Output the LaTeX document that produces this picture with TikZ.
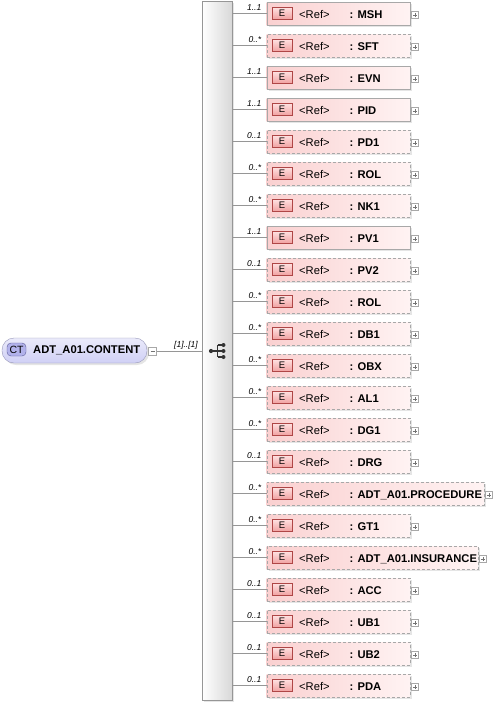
\documentclass[tikz,border=0pt]{standalone}
\usepackage{fontspec}
\setmainfont{Liberation Sans}
\usetikzlibrary{shadows}
\definecolor{boxpink}{RGB}{250,208,208}
\definecolor{boxlight}{RGB}{255,243,243}
\definecolor{boxline}{RGB}{168,168,168}
\definecolor{epink}{RGB}{240,160,160}
\definecolor{eline}{RGB}{175,70,70}
\definecolor{ctfill}{RGB}{208,208,245}
\definecolor{ctline}{RGB}{150,150,185}
\definecolor{ctbadge}{RGB}{178,178,235}
\definecolor{ctbadgeline}{RGB}{90,90,150}
\definecolor{barfill}{RGB}{216,216,216}
\definecolor{wiregray}{RGB}{150,150,150}
\newcommand{\txtsize}{\fontsize{11.2}{13}\selectfont}

\begin{document}
\begin{tikzpicture}[x=1pt,y=-1pt,
		softshadow/.style={drop shadow={shadow xshift=2pt, shadow yshift=-2pt, fill=black!10, opacity=1}},
		refbox/.style={draw=boxline, left color=boxpink, right color=boxlight, minimum height=23pt, inner sep=0pt, anchor=west, softshadow},
		optional/.code={\ifnum#1=1\relax\pgfkeysalso{dash pattern=on 3pt off 2pt}\fi},
		ebadge/.style={draw=eline, top color=red!12, bottom color=epink, minimum width=20pt, minimum height=12pt, inner sep=0pt, font=\fontsize{9.5}{10}\selectfont},
		reftext/.style={anchor=base west, inner sep=0pt, font=\txtsize},
		nametext/.style={anchor=base west, inner sep=0pt, font=\txtsize\bfseries},
		card/.style={anchor=base east, inner sep=0pt, font=\fontsize{8.5}{9}\selectfont\itshape},
		plusbox/.style={draw=boxline, fill=white, minimum size=7pt, inner sep=0pt, path picture={\draw[black!55] ([xshift=-2pt]path picture bounding box.center) -- ([xshift=2pt]path picture bounding box.center) ([yshift=-2pt]path picture bounding box.center) -- ([yshift=2pt]path picture bounding box.center);}},
		minusbox/.style={draw=boxline, fill=white, minimum size=8pt, inner sep=0pt, path picture={\draw[black!55] ([xshift=-2pt]path picture bounding box.center) -- ([xshift=2pt]path picture bounding box.center);}},
		wireline/.style={draw=wiregray, line width=0.8pt},
	]
	\useasboundingbox (0,0) rectangle (498,705);
	\node[draw=wiregray, left color=white, right color=barfill, minimum width=30pt, minimum height=699pt, inner sep=0pt, softshadow] (seq) at (217,350.5) {};
	\draw[black!80, line width=1.2pt] (211,351) -- (223.5,351) (217.5,345) -- (217.5,357) (217.5,345) -- (223.5,345) (217.5,357) -- (223.5,357);
	\fill[black!80] (211,351) circle (2.1pt) (223.5,345) circle (2pt) (223.5,351) circle (2pt) (223.5,357) circle (2pt);
	\node[draw=ctline, top color=white!55!ctfill, bottom color=ctfill, rounded corners=12pt, minimum width=145pt, minimum height=25pt, inner sep=0pt, softshadow] (ct) at (74.5,350.5) {};
	\node[draw=ctbadgeline, fill=ctbadge, rounded corners=4pt, minimum width=19pt, minimum height=13pt, inner sep=0pt, font=\fontsize{10.5}{11}\selectfont] (ctb) at (16.5,349.5) {CT};
	\node[nametext] (ctname) at (33,353.5) {ADT\_A01.CONTENT};
	\node[minusbox] (ctm) at (152.5,351) {};
	\draw[wireline] (ctm.east) -- (ctm.east -| seq.west);
	\node[card] (mult) at (198,347) {[1]..[1]};
	\foreach \crd/\nm/\opt/\bw [count=\i from 0] in {1..1/MSH/0/143, 0..*/SFT/1/143, 1..1/EVN/0/143, 1..1/PID/0/143, 0..1/PD1/1/143, 0..*/ROL/1/143, 0..*/NK1/1/143, 1..1/PV1/0/143, 0..1/PV2/1/143, 0..*/ROL/1/143, 0..*/DB1/1/143, 0..*/OBX/1/143, 0..*/AL1/1/143, 0..*/DG1/1/143, 0..1/DRG/1/143, 0..*/ADT\_A01.PROCEDURE/1/217, 0..*/GT1/1/143, 0..*/ADT\_A01.INSURANCE/1/211, 0..1/ACC/1/143, 0..1/UB1/1/143, 0..1/UB2/1/143, 0..1/PDA/1/143} {
		\node[refbox, optional=\opt, minimum width=\bw pt] (r\i) at (266.5,13.5+32*\i) {};
		\node[ebadge] (e\i) at ([xshift=15.5pt]r\i.west) {E};
		\node[reftext] (t\i) at ([xshift=32.5pt, yshift=-4.5pt]r\i.west) {<Ref>};
		\node[nametext] (n\i) at ([xshift=83pt, yshift=-4.5pt]r\i.west) {: \nm};
		\node[plusbox] (p\i) at ([xshift=5pt, yshift=-1.5pt]r\i.east) {};
		\draw[wireline] (r\i.west -| seq.east) -- (r\i.west);
		\node[card] (c\i) at ([xshift=-5pt, yshift=3.5pt]r\i.west) {\crd};
	}
\end{tikzpicture}
\end{document}
